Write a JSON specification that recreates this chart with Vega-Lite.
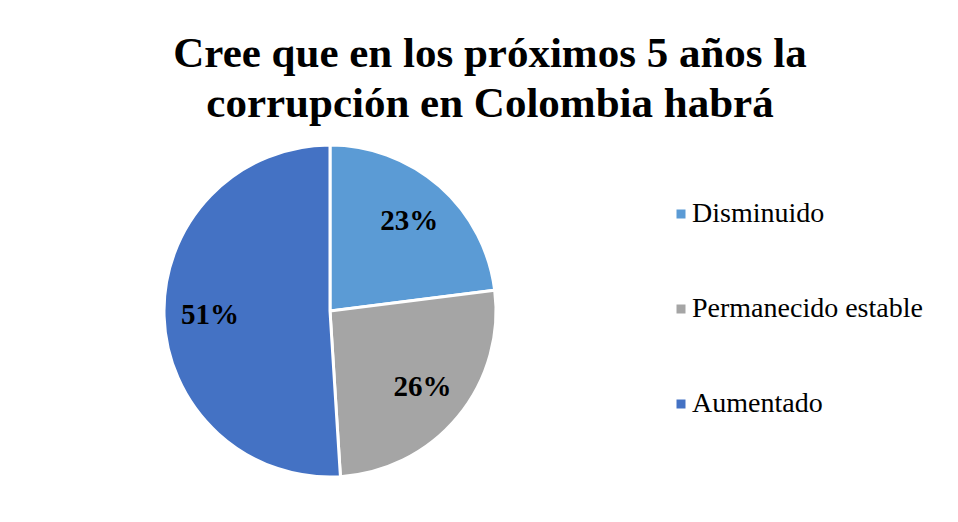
{
  "$schema": "https://vega.github.io/schema/vega-lite/v6.json",
  "width": 644,
  "height": 340,
  "padding": {"left": 8, "top": 33, "right": 0, "bottom": 0},
  "autosize": {"type": "pad"},
  "background": "white",
  "config": {
    "view": {"stroke": null},
    "legend": {"labelFont": "Liberation Serif", "labelFontSize": 28, "labelColor": "#000000"}
  },
  "title": {
    "text": ["Cree que en los próximos 5 años la", "corrupción en Colombia habrá"],
    "font": "Liberation Serif",
    "fontSize": 43,
    "fontWeight": "bold",
    "color": "#000000",
    "anchor": "middle",
    "dx": 160,
    "lineHeight": 50,
    "offset": 13
  },
  "data": {
    "values": [
      {"categoria": "Disminuido", "valor": 0.23, "ord": 1},
      {"categoria": "Permanecido estable", "valor": 0.26, "ord": 2},
      {"categoria": "Aumentado", "valor": 0.51, "ord": 3}
    ]
  },
  "encoding": {
    "theta": {"field": "valor", "type": "quantitative", "stack": true},
    "order": {"field": "ord", "type": "quantitative", "sort": "ascending"}
  },
  "layer": [
    {
      "mark": {"type": "arc", "outerRadius": 166, "stroke": "white", "strokeWidth": 3},
      "encoding": {
        "color": {
          "field": "categoria",
          "type": "nominal",
          "scale": {
            "domain": ["Disminuido", "Permanecido estable", "Aumentado"],
            "range": ["#5B9BD5", "#A5A5A5", "#4472C4"]
          },
          "legend": {
            "title": null,
            "orient": "none",
            "legendX": 659,
            "legendY": 59,
            "symbolType": "square",
            "symbolSize": 81,
            "symbolStrokeWidth": 0,
            "symbolOffset": 0,
            "labelFont": "Liberation Serif",
            "labelFontSize": 28,
            "labelColor": "#000000",
            "labelOffset": -3,
            "rowPadding": 67,
            "labelLimit": 400,
            "padding": 0
          }
        }
      }
    },
    {
      "mark": {
        "type": "text",
        "radius": 120,
        "font": "Liberation Serif",
        "fontSize": 29,
        "fontWeight": "bold",
        "color": "#000000"
      },
      "encoding": {
        "text": {"field": "valor", "type": "quantitative", "format": ".0%"}
      }
    }
  ]
}
